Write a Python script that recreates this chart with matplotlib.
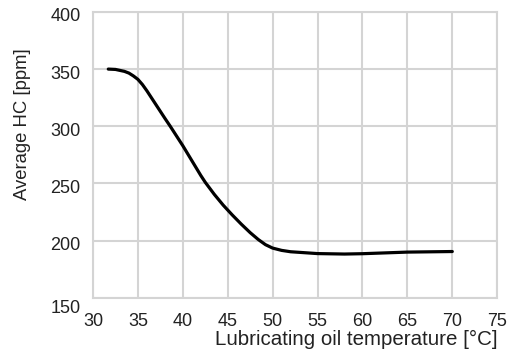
import matplotlib
matplotlib.use('Agg')
import matplotlib.pyplot as plt
import matplotlib.transforms as mtransforms

# values
temp = [31.7, 32.5, 33.5, 34, 34.5, 35, 35.5, 36, 37, 38, 38.6, 40, 41, 42,
        42.5, 43.5, 44.5, 45.5, 46.5, 47.5, 48.4, 49.2, 50, 51, 52, 55, 58,
        60, 65, 70]
hc = [350, 349.7, 348, 346.5, 344, 341, 336.5, 331, 319, 307, 300, 283, 270,
      257, 251, 240.5, 231, 222.5, 214.5, 207, 201, 196.5, 193.5, 191.5,
      190.3, 188.7, 188.3, 188.6, 190, 190.5]

x_ticks = [30, 35, 40, 45, 50, 55, 60, 65, 70, 75]
y_ticks = [150, 200, 250, 300, 350, 400]

plt.rcParams['font.family'] = ['Liberation Sans', 'DejaVu Sans']
text_color = '#222222'
grid_color = '#d4d4d4'

fig = plt.figure(figsize=(5.11, 3.5), dpi=100)
ax = fig.add_axes([0.182, 0.149, 0.791, 0.817])

ax.plot(temp, hc, color='black', linewidth=2.3, solid_capstyle='round',
        solid_joinstyle='round', zorder=3)

ax.set_xlim(30, 75)
ax.set_ylim(150, 400)
ax.set_xticks(x_ticks)
ax.set_yticks(y_ticks)
ax.grid(True, color=grid_color, linewidth=1.5)
ax.set_axisbelow(True)
for s in ax.spines.values():
    s.set_color(grid_color)
    s.set_linewidth(1.5)

ax.tick_params(length=0, labelsize=13, labelcolor=text_color)
ax.tick_params(axis='y', pad=9)
ax.tick_params(axis='x', pad=11)

# y labels sit a bit low in the original, 150 even lower (shift in pixels)
for lab, v in zip(ax.get_yticklabels(), y_ticks):
    dy = -9 / 100 if v == 150 else -3 / 100
    lab.set_transform(lab.get_transform() +
                      mtransforms.ScaledTranslation(0, dy, fig.dpi_scale_trans))

ax.set_xlabel('Lubricating oil temperature [°C]', fontsize=14.8,
              color=text_color, loc='right', labelpad=0)
ax.set_ylabel('Average HC [ppm]', fontsize=13.3, color=text_color)
ax.yaxis.set_label_coords(-0.153, 0.608)

fig.savefig('out.png', dpi=100, facecolor='white')
